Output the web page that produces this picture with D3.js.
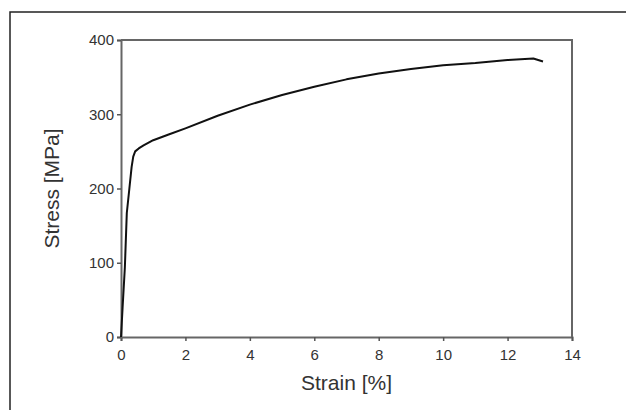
<!DOCTYPE html>
<html>
<head>
<meta charset="utf-8">
<script src="https://cdn.jsdelivr.net/npm/d3@7"></script>
<style>
  body { margin: 0; background: #fff; }
  svg { display: block; }
  text { font-family: "Liberation Sans", Arial, sans-serif; fill: #333; }
</style>
</head>
<body>
<svg id="chart" width="626" height="410"></svg>
<script>
// strain [%] vs stress [MPa]
const strain = [0, 0.05, 0.12, 0.18, 0.26, 0.33, 0.38, 0.44, 0.55, 0.7, 1, 1.5, 2, 3, 4, 5, 6, 7, 8, 9, 10, 11, 12, 12.8, 13.1]
const stress = [0, 40, 94, 167, 200, 229, 243, 250, 254, 258, 265, 273, 281, 298, 313, 326, 337, 347, 355, 361, 366, 369, 373, 375, 371]

const xTicks = [0, 2, 4, 6, 8, 10, 12, 14]
const yTicks = [0, 100, 200, 300, 400]

const svg = d3.select('#chart')
const W = 626, H = 410
const plot = { left: 121, top: 40, right: 572, bottom: 337 }

// outer frame (top and left only)
svg.append('path')
  .attr('d', `M10,${H} L10,12 L${W},12`)
  .attr('fill', 'none')
  .attr('stroke', '#222')
  .attr('stroke-width', 1.5)

const x = d3.scaleLinear([0, 14], [plot.left, plot.right])
const y = d3.scaleLinear([0, 400], [plot.bottom, plot.top])

// plot box top + right
svg.append('path')
  .attr('d', `M${plot.left},${plot.top} L${plot.right},${plot.top} L${plot.right},${plot.bottom}`)
  .attr('fill', 'none')
  .attr('stroke', '#666')
  .attr('stroke-width', 2)

const xAxis = svg.append('g')
  .attr('transform', `translate(0,${plot.bottom})`)
  .call(d3.axisBottom(x).tickValues(xTicks).tickSize(4).tickPadding(8).tickFormat(d3.format('d')))
const yAxis = svg.append('g')
  .attr('transform', `translate(${plot.left},0)`)
  .call(d3.axisLeft(y).tickValues(yTicks).tickSize(4).tickPadding(3).tickFormat(d3.format('d')))

;[xAxis, yAxis].forEach(g => {
  g.select('.domain').attr('stroke', '#666').attr('stroke-width', 2)
  g.selectAll('.tick line').attr('stroke', '#555').attr('stroke-width', 1.5)
  g.selectAll('.tick text')
    .attr('fill', '#333')
    .style('font-family', '"Liberation Sans", Arial, sans-serif')
    .style('font-size', '15px')
})

// curve
const pts = strain.map((s, i) => [s, stress[i]])
svg.append('path')
  .datum(pts)
  .attr('d', d3.line().x(d => x(d[0])).y(d => y(d[1])))
  .attr('fill', 'none')
  .attr('stroke', '#111')
  .attr('stroke-width', 2)
  .attr('stroke-linejoin', 'round')

// axis titles
svg.append('text')
  .attr('x', (plot.left + plot.right) / 2)
  .attr('y', 390)
  .attr('text-anchor', 'middle')
  .style('font-size', '21px')
  .text('Strain [%]')

svg.append('text')
  .attr('transform', `translate(59,${(plot.top + plot.bottom) / 2}) rotate(-90)`)
  .attr('text-anchor', 'middle')
  .style('font-size', '21px')
  .text('Stress [MPa]')
</script>
</body>
</html>
